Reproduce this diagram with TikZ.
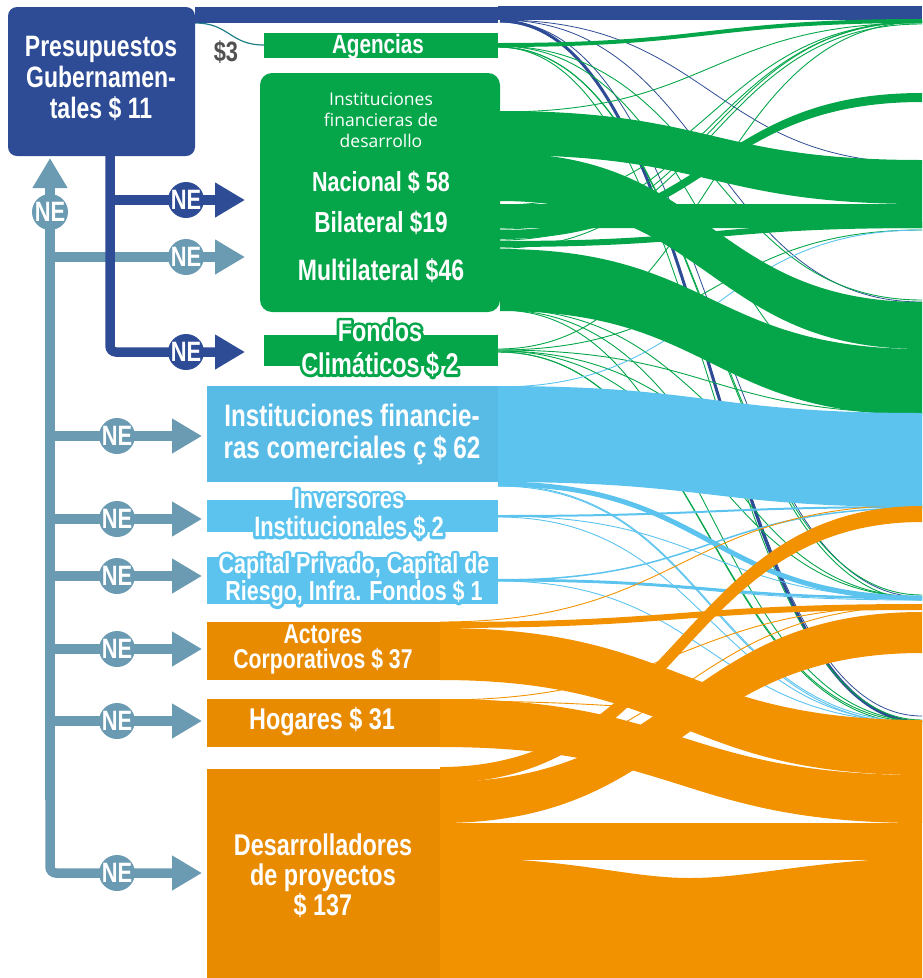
\documentclass[tikz,border=0pt]{standalone}
\usepackage{fontspec}
\setmainfont{Liberation Sans}
\newfontfamily\cond{Liberation Sans}[FakeStretch=0.78]
\newfontfamily\osans{Open Sans}
\usetikzlibrary{calc,arrows.meta}
\definecolor{dblue}{HTML}{2E4C95}
\definecolor{grn}{HTML}{05A64A}
\definecolor{lblue}{HTML}{5BC3EE}
\definecolor{lblueb}{HTML}{58BBE6}
\definecolor{org}{HTML}{F29200}
\definecolor{orgb}{HTML}{E98B00}
\definecolor{steel}{HTML}{6A9BB3}
\definecolor{gry}{HTML}{505050}
\definecolor{tealc}{HTML}{1E7F86}
\newcommand\ribbon[7]{\fill[#1] (#2,#3) .. controls ({(#2+#5)/2},#3) and ({(#2+#5)/2},#6) .. (#5,#6) -- (#5,#7) .. controls ({(#2+#5)/2},#7) and ({(#2+#5)/2},#4) .. (#2,#4) -- cycle;}
\newcommand\flowline[5]{\draw[#1] (#2,#3) .. controls ({(#2+#4)/2},#3) and ({(#2+#4)/2},#5) .. (#4,#5);}
\newcommand\otxt[5]{%
  \node[lbl,#4,text=#3] (#1-o) at (#2) {\special{pdf:literal direct 1 Tr 5.5 w 1 j}#5\special{pdf:literal direct 0 Tr}};%
  \node[lbl,#4] (#1) at (#2) {#5};}
\newcommand\fsz[2]{\cond\bfseries\fontsize{#1}{#2}\selectfont}
\begin{document}
\begin{tikzpicture}[x=1pt,y=-1pt,
  lbl/.style={text=white,font=\fsz{28}{31},align=center,inner sep=0pt},
  boxn/.style={draw=none,inner sep=0pt,outer sep=0pt},
  ne/.style={circle,minimum size=36pt,inner sep=0pt,text=white,font=\fsz{28}{28}},
  stl/.style={draw=steel,line width=9.5pt},
  dbl/.style={draw=dblue,line width=9.5pt},
  headtip/.style={-{Triangle[length=30pt,width=33pt]}},
  thinl/.style={line width=0.9pt}]
\useasboundingbox (0,0) rectangle (922,978);
\begin{scope}
\clip (0,0) rectangle (922,978);
% ---- thin links (under the bands)
\flowline{dblue,line width=3pt}{500}{21}{922}{722}
\flowline{dblue,line width=.8pt}{500}{20}{922}{163}
\flowline{dblue,line width=.8pt}{500}{20}{922}{302}
\flowline{dblue,line width=.8pt}{500}{21}{922}{597}
\flowline{dblue,line width=.8pt}{500}{22}{922}{716}
\flowline{tealc,line width=1.2pt}{195}{23}{264}{45}
% green
\flowline{grn,thinl}{498}{46}{922}{300}
\flowline{grn,thinl}{498}{46}{922}{415}
\flowline{grn,thinl}{498}{47}{922}{595}
\flowline{grn,thinl}{498}{47}{922}{600}
\flowline{grn,thinl}{498}{47}{922}{720}
\flowline{grn,thinl}{500}{112}{922}{23}
\flowline{grn,thinl}{500}{205}{922}{22}
\flowline{grn,thinl}{500}{229}{922}{22}
\flowline{grn,thinl}{500}{240}{922}{21}
\flowline{grn,thinl}{500}{248}{922}{24}
\flowline{grn,thinl}{500}{309}{922}{505}
\flowline{grn,thinl}{500}{310}{922}{597}
\flowline{grn,thinl}{500}{310}{922}{721}
\flowline{grn,thinl}{498}{349}{922}{22}
\flowline{grn,thinl}{498}{350}{922}{230}
\flowline{grn,thinl}{498}{350}{922}{413}
\flowline{grn,thinl}{498}{351}{922}{507}
\flowline{grn,thinl}{498}{351}{922}{597}
\flowline{grn,thinl}{498}{352}{922}{722}
\flowline{grn,thinl}{498}{352}{922}{724}
% light blue
\flowline{lblue,thinl}{498}{387}{922}{230}
\flowline{lblue,line width=5pt}{498}{484}{922}{598}
\flowline{lblue,thinl}{498}{485}{922}{722}
\flowline{lblue,thinl}{498}{486}{922}{724}
\flowline{lblue,line width=2pt}{498}{516}{922}{507}
\flowline{lblue,thinl}{498}{516}{922}{598}
\flowline{lblue,thinl}{498}{517}{922}{723}
\flowline{lblue,line width=1.5pt}{498}{580}{922}{508}
\flowline{lblue,line width=2.5pt}{498}{580}{922}{598}
\flowline{lblue,thinl}{498}{581}{922}{722}
\flowline{lblue,thinl}{498}{581}{922}{600}
% orange
\flowline{org,thinl}{440}{622}{922}{505}
\flowline{org,thinl}{440}{700}{922}{606}
\flowline{org,thinl}{440}{701}{922}{721}
\flowline{org,thinl}{440}{768}{922}{606}
% ---- bands
\fill[dblue] (195,7) rectangle (498,23);
\fill[dblue] (498,6) rectangle (922,20);
\ribbon{grn}{498}{43}{47}{922}{19}{23}
\ribbon{grn}{500}{111}{155}{922}{160}{204}
\ribbon{grn}{500}{153}{201}{922}{302}{349}
\ribbon{grn}{500}{204}{228}{922}{204}{228}
\ribbon{grn}{500}{230}{239}{922}{93}{102}
\ribbon{grn}{500}{241}{247}{922}{222}{228}
\ribbon{grn}{500}{249}{311}{922}{349}{415}
\ribbon{lblue}{498}{386}{482}{922}{413}{507}
\ribbon{org}{440}{622}{628}{922}{604}{610}
\ribbon{org}{440}{628}{680}{922}{720}{775}
\ribbon{org}{440}{699}{747}{922}{775}{823}
\ribbon{org}{440}{767}{783}{922}{506}{522}
\ribbon{org}{440}{782}{823}{922}{612}{653}
\fill[org] (440,823) rectangle (922,860);
\fill[org] (440,860) -- (520,860) .. controls (600,866) and (640,878) .. (690,878) .. controls (740,878) and (790,866) .. (870,860) -- (922,860) -- (922,978) -- (440,978) -- cycle;
\end{scope}
% ---- boxes
\node[boxn,fill=dblue,rounded corners=9pt,minimum width=187pt,minimum height=149pt] (pg) at (101.5,81.5) {};
\node[boxn,fill=grn,minimum width=234pt,minimum height=25pt] (ag) at (381,45.5) {};
\node[boxn,fill=grn,rounded corners=12pt,minimum width=240pt,minimum height=239pt] (ifd) at (380,192.5) {};
\node[boxn,fill=grn,minimum width=234pt,minimum height=31pt] (fc) at (381,350.5) {};
\node[boxn,fill=lblueb,minimum width=291pt,minimum height=96pt] (com) at (352.5,434) {};
\node[boxn,fill=lblue,minimum width=291pt,minimum height=32pt] (inv) at (352.5,516) {};
\node[boxn,fill=lblue,minimum width=291pt,minimum height=47pt] (cap) at (352.5,580.5) {};
\node[boxn,fill=orgb,minimum width=233pt,minimum height=58pt] (act) at (323.5,651) {};
\node[boxn,fill=orgb,minimum width=233pt,minimum height=48pt] (hog) at (323.5,723) {};
\node[boxn,fill=orgb,minimum width=233pt,minimum height=209pt] (des) at (323.5,873.5) {};
% ---- texts
\node[lbl,font=\fsz{29.5}{31}] (pgt) at (101,78) {Presupuestos\\Gubernamen-\\tales \$ 11};
\node[lbl,text=gry,font=\fsz{28}{28}] (d3) at (226,52) {\$3};
\node[lbl,font=\fsz{26.5}{26}] (agt) at (378,46.5) {Agencias};
\node[lbl,font=\osans\fontsize{17.5}{21}\selectfont] (ifdh) at (381,120) {Instituciones\\financieras de\\desarrollo};
\node[lbl,font=\fsz{27.6}{28}] (nac) at (381,182) {Nacional \$ 58};
\node[lbl,font=\fsz{29}{29}] (bil) at (381,223) {Bilateral \$19};
\node[lbl,font=\fsz{29.5}{29}] (mul) at (381,271) {Multilateral \$46};
\otxt{fct}{380,348}{grn}{font=\fsz{30}{33}}{Fondos\\Climáticos \$ 2}
\node[lbl,font=\fsz{31}{32}] (comt) at (352,434) {Instituciones financie-\\ras comerciales ç \$ 62};
\otxt{invt}{349,514}{lblue}{font=\fsz{28}{28}}{Inversores\\Institucionales \$ 2}
\otxt{capt}{354,580}{lblue}{font=\fsz{27.5}{27}}{Capital Privado, Capital de\\Riesgo, Infra. Fondos \$ 1}
\node[lbl,font=\fsz{27.2}{25}] (actt) at (323,649) {Actores\\Corporativos \$ 37};
\node[lbl,font=\fsz{30}{30}] (hogt) at (322,722) {Hogares \$ 31};
\node[lbl,font=\fsz{30}{30}] (dest) at (323,876) {Desarrolladores\\de proyectos\\\$ 137};
% ---- arrows
\coordinate (t1) at (50,257);
\coordinate (t2) at (50,436);
\coordinate (t3) at (50,519);
\coordinate (t4) at (50,576);
\coordinate (t5) at (50,649);
\coordinate (t6) at (50,721);
\coordinate (t7) at (50,873);
\coordinate (d1) at (110,200);
\coordinate (d2) at (110,352);
\draw[stl,headtip] (50,800) -- (50,158);
\draw[stl,headtip,shorten >=15pt] (t1) -- (t1 -| ifd.west);
\draw[stl,headtip,shorten >=5pt] (t2) -- (t2 -| com.west);
\draw[stl,headtip,shorten >=5pt] (t3) -- (t3 -| inv.west);
\draw[stl,headtip,shorten >=5pt] (t4) -- (t4 -| cap.west);
\draw[stl,headtip,shorten >=5pt] (t5) -- (t5 -| act.west);
\draw[stl,headtip,shorten >=5pt] (t6) -- (t6 -| hog.west);
\draw[stl,headtip,shorten >=5pt,rounded corners=6pt] (50,780) -- (t7) -- (t7 -| des.west);
\draw[dbl,headtip,shorten >=19pt,rounded corners=6pt] (110,150) -- (d2) -- (d2 -| fc.west);
\draw[dbl,headtip,shorten >=15pt] (d1) -- (d1 -| ifd.west);
\node[ne,fill=steel] (n0) at (50,212) {NE};
\node[ne,fill=steel] (n1) at (186,257) {NE};
\node[ne,fill=steel] (n2) at (117,436) {NE};
\node[ne,fill=steel] (n3) at (117,519) {NE};
\node[ne,fill=steel] (n4) at (117,576) {NE};
\node[ne,fill=steel] (n5) at (117,649) {NE};
\node[ne,fill=steel] (n6) at (117,721) {NE};
\node[ne,fill=steel] (n7) at (117,873) {NE};
\node[ne,fill=dblue] (m1) at (186,200) {NE};
\node[ne,fill=dblue] (m2) at (186,352) {NE};
\end{tikzpicture}
\end{document}
